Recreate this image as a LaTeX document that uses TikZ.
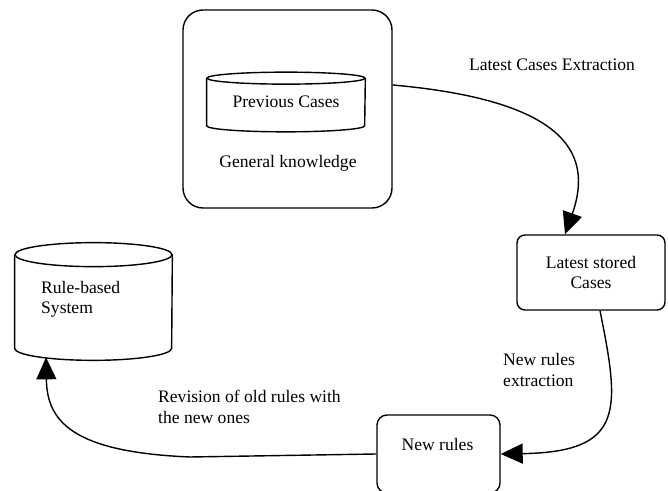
\documentclass[tikz,border=0pt]{standalone}
\usepackage{fontspec}
\setmainfont{Liberation Serif}
\usetikzlibrary{arrows.meta}

\begin{document}
\begin{tikzpicture}[font=\fontsize{10}{11.5}\selectfont,
                    box/.style={draw, thick, rectangle, rounded corners=#1},
                    flow/.style={thick, -{Triangle[length=4.4mm, width=4mm]}}]
                        \useasboundingbox (0, 0) rectangle (13.36, 9.82);
                        % general knowledge with the previous cases
                        \node[box=4mm, minimum width=4.18cm, minimum height=3.96cm] (know) at (5.75, 7.64){};
                        \node[minimum width=3.16cm, minimum height=1.18cm] (prev) at (5.72, 7.78){Previous Cases};
                        \node (knowtext) at (5.76, 6.56){General knowledge};
                        % stored cases and rules
                        \node[box=1.6mm, minimum width=2.96cm, minimum height=1.5cm, align=center] (latest) at (11.82, 4.37){Latest stored\\Cases};
                        \node[box=2mm, minimum width=2.46cm, minimum height=1.56cm] (newrules) at (8.77, 0.74){};
                        \node (newtext) at (8.75, 0.94){New rules};
                        \node[minimum width=3.14cm, minimum height=2.34cm] (rules) at (1.87, 3.79){};
                        \node[anchor=west, align=left] (rulestext) at (0.70, 3.84){Rule-based\\System};
                        % the two stores are drawn as cylinders
                        \foreach \n/\rx/\ry in {prev/15.8mm/1.2mm, rules/15.7mm/2.4mm}{
                                \draw[thick] ([yshift=-\ry]\n.north) ellipse[x radius=\rx, y radius=\ry];
                                \draw[thick] ([yshift=-\ry]\n.north west) -- ([yshift=\ry]\n.south west)
                                        arc[start angle=180, end angle=360, x radius=\rx, y radius=\ry] -- ([yshift=-\ry]\n.north east);
                        }
                        % labels of the steps
                        \node (extract) at (11.04, 8.52){Latest Cases Extraction};
                        \node[anchor=west, align=left] (newextract) at (9.94, 2.42){New rules\\extraction};
                        \node[anchor=west, align=left] (revise) at (3.04, 1.68){Revision of old rules with\\the new ones};
                        % connectors
                        \draw[flow] ([yshift=4.8mm]know.east) .. controls (11.2, 7.82) and (11.9, 6.82) .. ([xshift=-5.2mm]latest.north);
                        \draw[flow] ([xshift=1.8mm]latest.south) .. controls (12.4, 1.62) and (12.5, 0.78) .. (newrules.east);
                        \draw[flow] (newrules.west) -- (3.8, 0.68) .. controls (1.4, 0.78) and (0.94, 1.42) .. ([xshift=-9.5mm, yshift=0.6mm]rules.south);
                \end{tikzpicture}
\end{document}
